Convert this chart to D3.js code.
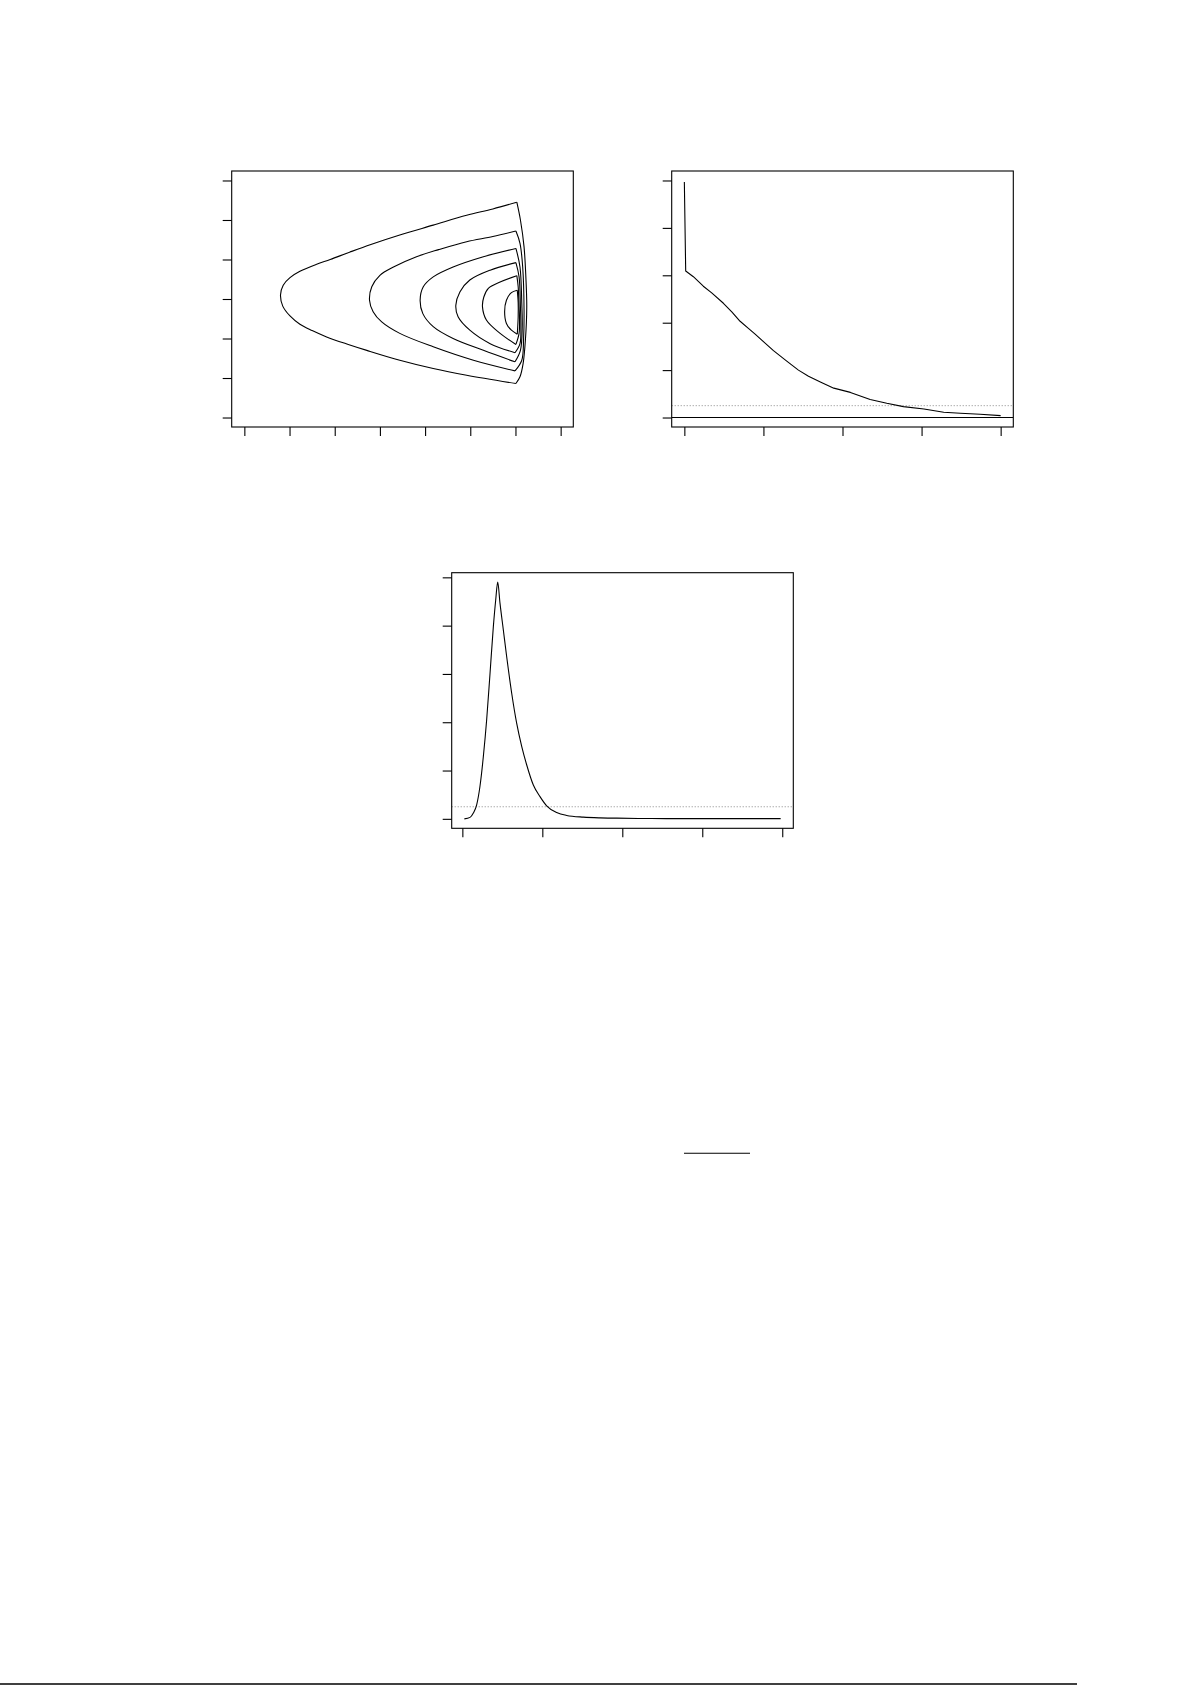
<!DOCTYPE html>
<html>
<head>
<meta charset="utf-8">
<script src="https://cdn.jsdelivr.net/npm/d3@7"></script>
<style>
  html, body { margin: 0; padding: 0; background: #fff; }
  svg { display: block; }
</style>
</head>
<body>
<svg id="page" width="1192" height="1685"></svg>
<script>
// ---------------- DATA ----------------
// Panel 1: nested closed contours (x, y)
const contour1 = [[6.03,5.45],[5.5,5.28],[4.92,5.12],[4.18,4.87],[3.44,4.62],[2.8,4.38],[2.34,4.19],[1.9,4.0],[1.6,3.88],[1.23,3.70],[1.01,3.54],[0.86,3.35],[0.80,3.10],[0.85,2.82],[1.01,2.57],[1.23,2.36],[1.5,2.2],[1.82,2.04],[2.3,1.85],[2.71,1.70],[3.44,1.45],[4.18,1.24],[4.92,1.07],[6.01,0.86],[6.10,1.03],[6.17,1.37],[6.22,1.96],[6.25,2.80],[6.23,3.56],[6.19,4.32],[6.11,5.0],[6.03,5.45]];
const contour2 = [[6.01,4.72],[5.5,4.58],[4.92,4.45],[4.3,4.25],[3.81,4.07],[3.30,3.81],[3.0,3.60],[2.82,3.31],[2.77,2.97],[2.85,2.68],[3.04,2.42],[3.44,2.13],[4.18,1.79],[5.07,1.45],[5.99,1.18],[6.14,1.45],[6.18,2.0],[6.19,2.72],[6.16,3.81],[6.10,4.41],[6.01,4.72]];
const contour3 = [[6.01,4.28],[5.29,4.07],[4.62,3.81],[4.18,3.56],[3.96,3.31],[3.89,2.97],[3.95,2.63],[4.18,2.30],[4.62,2.0],[5.29,1.70],[5.99,1.41],[6.11,1.70],[6.15,2.3],[6.14,2.89],[6.10,3.81],[6.01,4.28]];
const contour4 = [[6.01,3.92],[5.44,3.73],[4.99,3.48],[4.77,3.18],[4.68,2.84],[4.73,2.55],[4.99,2.21],[5.44,1.87],[5.99,1.64],[6.10,1.87],[6.12,2.3],[6.11,2.80],[6.08,3.56],[6.01,3.92]];
const contour5 = [[6.03,3.59],[5.66,3.43],[5.40,3.27],[5.30,3.05],[5.27,2.80],[5.36,2.46],[5.66,2.13],[6.01,1.85],[6.08,2.13],[6.09,2.5],[6.08,2.80],[6.06,3.31],[6.03,3.59]];
const contour6 = [[6.04,3.22],[5.91,3.16],[5.80,2.97],[5.76,2.68],[5.80,2.38],[5.91,2.21],[6.04,2.11],[6.06,2.55],[6.06,2.9],[6.04,3.22]];
const contours = [contour1, contour2, contour3, contour4, contour5, contour6];
const p1XTicks = [0,1,2,3,4,5,6,7];
const p1YTicks = [0,1,2,3,4,5,6];

// Panel 2: decreasing series
const p2X = [0,0.17,1.14,2.4,3.46,4.94,6.0,7.05,8.1,8.95,10,11.27,12.95,14.43,15.7,17.2,18.9,21.0,23.5,25.6,27.7,30.3,32.8,34.9,37.4,40];
const p2Y = [4.97,3.09,2.97,2.77,2.63,2.41,2.23,2.03,1.88,1.76,1.60,1.41,1.19,1.0,0.87,0.75,0.62,0.53,0.38,0.30,0.23,0.18,0.11,0.09,0.07,0.04];
const p2XTicks = [0,10,20,30,40];
const p2YTicks = [0,1,2,3,4,5];
const p2Threshold = 0.25;

// Panel 3: peaked series
const p3X = [2.5,9.6,13.75,17.9,22,26.25,30.4,34.6,38.75,41.7,44.2,47.1,51.25,55.4,61.7,67.9,74.2,80.4,88.75,97.1,105.4,117.9,130.4,151.25,172,193,222,255,398];
const p3Y = [0,0.03,0.12,0.29,0.67,1.29,2.05,3.01,3.98,4.53,4.90,4.46,3.91,3.36,2.6,1.98,1.5,1.12,0.70,0.46,0.27,0.13,0.07,0.035,0.02,0.014,0.007,0.005,0.005];
const p3XTicks = [0,100,200,300,400];
const p3YTicks = [0,1,2,3,4,5];
const p3Threshold = 0.25;

// ---------------- DRAWING ----------------
const svg = d3.select("#page");

function rExpand(ext) {
  const d = ext[1] - ext[0];
  return [ext[0] - 0.04 * d, ext[1] + 0.04 * d];
}

function panel(box, xlim, ylim, xTicks, yTicks) {
  const x = d3.scaleLinear().domain(rExpand(xlim)).range([box.left, box.right]);
  const y = d3.scaleLinear().domain(rExpand(ylim)).range([box.bottom, box.top]);
  const g = svg.append("g");
  const xa = g.append("g").attr("transform", `translate(0,${box.bottom})`)
    .call(d3.axisBottom(x).tickValues(xTicks).tickFormat("").tickSize(9).tickSizeOuter(0));
  const ya = g.append("g").attr("transform", `translate(${box.left},0)`)
    .call(d3.axisLeft(y).tickValues(yTicks).tickFormat("").tickSize(9).tickSizeOuter(0));
  [xa, ya].forEach(a => {
    a.select(".domain").remove();
    a.selectAll("line").attr("stroke", "#000").attr("stroke-width", 1.1);
  });
  const clip = "clip" + Math.round(box.left) + Math.round(box.top);
  svg.append("clipPath").attr("id", clip).append("rect")
    .attr("x", box.left).attr("y", box.top)
    .attr("width", box.right - box.left).attr("height", box.bottom - box.top);
  const plot = g.append("g").attr("clip-path", `url(#${clip})`);
  g.append("rect")
    .attr("x", box.left).attr("y", box.top)
    .attr("width", box.right - box.left).attr("height", box.bottom - box.top)
    .attr("fill", "none").attr("stroke", "#000").attr("stroke-width", 1.1);
  return { x, y, plot, box };
}

// Panel 1
const P1 = panel({ left: 231.7, right: 573.3, top: 171, bottom: 427 }, [0, 7], [0, 6], p1XTicks, p1YTicks);
const line1 = d3.line().x(d => P1.x(d[0])).y(d => P1.y(d[1])).curve(d3.curveCatmullRom.alpha(0.5));
// split each loop at its lower-right corner so the corners stay sharp
const pieces = [];
contours.forEach(c => {
  const k = d3.minIndex(c, d => d[1]);
  pieces.push(c.slice(0, k + 1));
  pieces.push(c.slice(k));
});
P1.plot.selectAll("path.c").data(pieces).join("path")
  .attr("class", "c").attr("d", line1)
  .attr("fill", "none").attr("stroke", "#000").attr("stroke-width", 1.1)
  .attr("stroke-linejoin", "round");

// Panel 2
const P2 = panel({ left: 671.7, right: 1013.3, top: 171, bottom: 427 }, [0, 40], [0, 5], p2XTicks, p2YTicks);
const p2Data = p2X.map((v, i) => [v, p2Y[i]]);
P2.plot.append("line")
  .attr("x1", P2.box.left).attr("x2", P2.box.right)
  .attr("y1", P2.y(p2Threshold)).attr("y2", P2.y(p2Threshold))
  .attr("stroke", "#888").attr("stroke-width", 1).attr("stroke-dasharray", "1,2");
P2.plot.append("line")
  .attr("x1", P2.box.left).attr("x2", P2.box.right)
  .attr("y1", P2.y(0)).attr("y2", P2.y(0))
  .attr("stroke", "#000").attr("stroke-width", 1.1);
P2.plot.append("path")
  .attr("d", d3.line().x(d => P2.x(d[0])).y(d => P2.y(d[1]))(p2Data))
  .attr("fill", "none").attr("stroke", "#000").attr("stroke-width", 1.1)
  .attr("stroke-linejoin", "round");

// Panel 3
const P3 = panel({ left: 451.7, right: 793.3, top: 572.7, bottom: 828.3 },
  d3.extent(p3X), [0, d3.max(p3Y)], p3XTicks, p3YTicks);
const p3Data = p3X.map((v, i) => [v, p3Y[i]]);
P3.plot.append("line")
  .attr("x1", P3.box.left).attr("x2", P3.box.right)
  .attr("y1", P3.y(p3Threshold)).attr("y2", P3.y(p3Threshold))
  .attr("stroke", "#888").attr("stroke-width", 1).attr("stroke-dasharray", "1,2");
P3.plot.append("path")
  .attr("d", d3.line().x(d => P3.x(d[0])).y(d => P3.y(d[1])).curve(d3.curveMonotoneX)(p3Data))
  .attr("fill", "none").attr("stroke", "#000").attr("stroke-width", 1.1)
  .attr("stroke-linejoin", "round");

// Page rules (fraction bar and footer rule)
svg.append("line").attr("x1", 684).attr("x2", 750).attr("y1", 1153.3).attr("y2", 1153.3)
  .attr("stroke", "#000").attr("stroke-width", 1.1);
svg.append("line").attr("x1", 0).attr("x2", 1077).attr("y1", 1684).attr("y2", 1684)
  .attr("stroke", "#000").attr("stroke-width", 1.3);
</script>
</body>
</html>
